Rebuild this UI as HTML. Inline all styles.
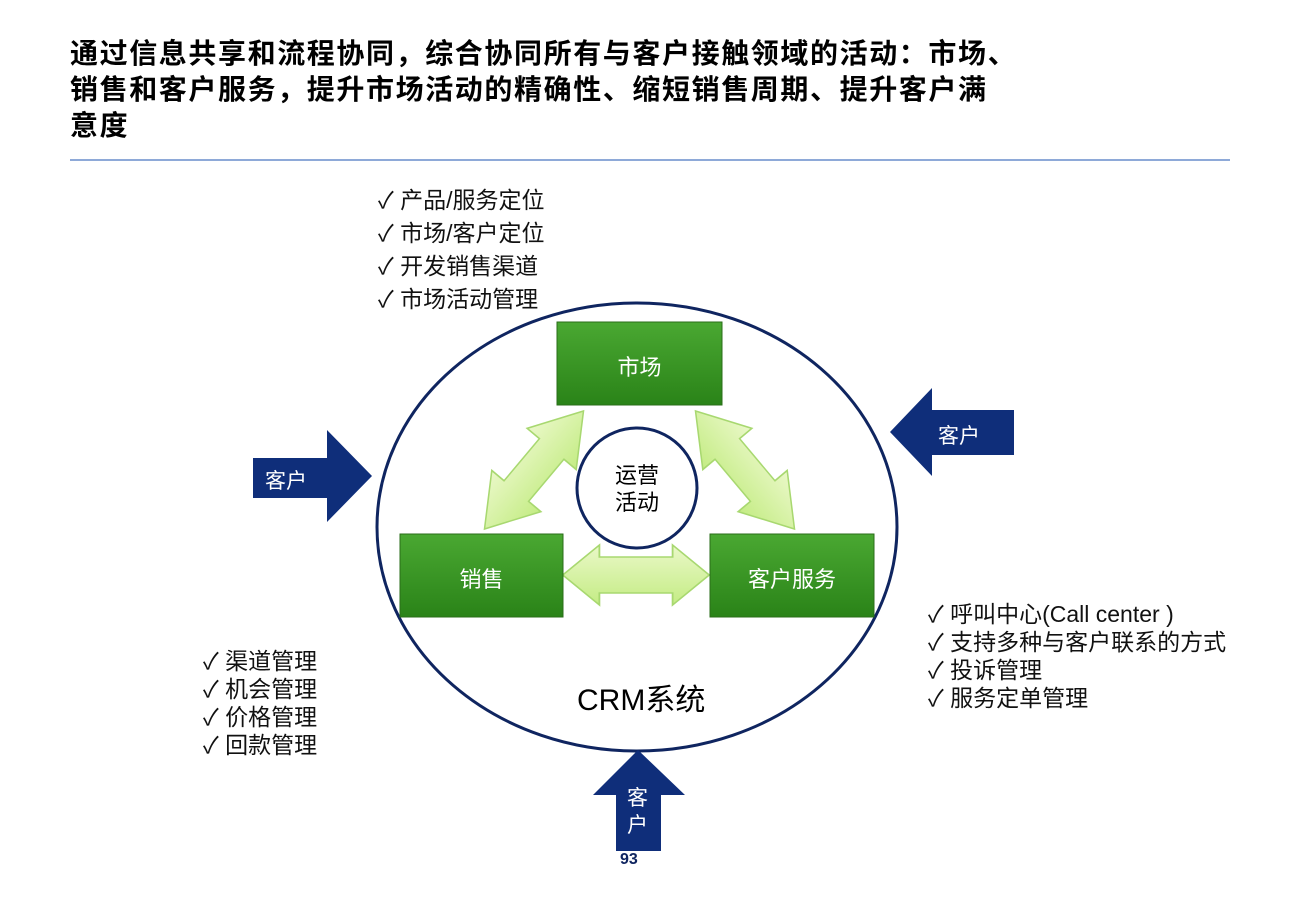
<!DOCTYPE html>
<html><head><meta charset="utf-8"><style>
body{margin:0;width:1300px;height:900px;background:#fff;overflow:hidden;position:relative;font-family:"Liberation Sans","Noto Sans CJK SC",sans-serif;}
.t{position:absolute;white-space:nowrap;}
.title{left:70px;top:36px;font-size:28px;letter-spacing:1.6px;font-weight:bold;line-height:36px;color:#000;}
.l{font-size:23px;line-height:33px;color:#111;}
.l2{font-size:23px;line-height:28px;color:#111;}
</style></head><body>
<div class="t title">通过信息共享和流程协同，综合协同所有与客户接触领域的活动：市场、<br>销售和客户服务，提升市场活动的精确性、缩短销售周期、提升客户满<br>意度</div>
<div style="position:absolute;left:70px;top:159px;width:1160px;height:2px;background:#8ea9d8"></div>
<svg width="1300" height="900" style="position:absolute;left:0;top:0">
<defs>
<linearGradient id="g" x1="0" y1="0" x2="0" y2="1"><stop offset="0" stop-color="#4aa832"/><stop offset="1" stop-color="#2a8318"/></linearGradient>
<linearGradient id="lg" x1="0" y1="0" x2="0" y2="1"><stop offset="0" stop-color="#eaf8c8"/><stop offset="1" stop-color="#c4ec84"/></linearGradient>
</defs>
<ellipse cx="637" cy="527" rx="260" ry="224" fill="none" stroke="#0f2560" stroke-width="3"/>
<g fill="url(#lg)" stroke="#a8d870" stroke-width="1.5">
<polygon points="0,-18 30,-18 30,-30 60,0 30,30 30,18 -30,18 -30,30 -60,0 -30,-30 -30,-18" transform="translate(636,575) scale(1.22,1)"/>
<polygon points="-25,-16 25,-16 25,-32 70,0 25,32 25,16 -25,16 -25,32 -70,0 -25,-32" transform="translate(534,470) rotate(-50) scale(1.1,1)"/>
<polygon points="-25,-16 25,-16 25,-32 70,0 25,32 25,16 -25,16 -25,32 -70,0 -25,-32" transform="translate(745,470) rotate(50) scale(1.1,1)"/>
</g>
<rect x="557" y="322" width="165" height="83" fill="url(#g)" stroke="#2a6e18"/>
<rect x="400" y="534" width="163" height="83" fill="url(#g)" stroke="#2a6e18"/>
<rect x="710" y="534" width="164" height="83" fill="url(#g)" stroke="#2a6e18"/>
<circle cx="637" cy="488" r="60" fill="#fff" stroke="#0f2560" stroke-width="3"/>
<polygon points="253,458 327,458 327,430 372,476 327,522 327,498 253,498" fill="#0f2e7a"/>
<polygon points="1014,410 932,410 932,388 890,432 932,476 932,455 1014,455" fill="#0f2e7a"/>
<polygon points="638,750 685,795 661,795 661,851 616,851 616,795 593,795" fill="#0f2e7a"/>
</svg>
<div class="t" style="left:557px;top:350px;width:165px;text-align:center;color:#fff;font-size:22px">市场</div>
<div class="t" style="left:400px;top:562px;width:163px;text-align:center;color:#fff;font-size:22px">销售</div>
<div class="t" style="left:710px;top:562px;width:164px;text-align:center;color:#fff;font-size:22px">客户服务</div>
<div class="t" style="left:577px;top:462px;width:120px;text-align:center;font-size:22px;line-height:27px">运营<br>活动</div>
<div class="t" style="left:265px;top:465px;color:#fff;font-size:21px">客户</div>
<div class="t" style="left:938px;top:420px;color:#fff;font-size:21px">客户</div>
<div class="t" style="left:627px;top:785px;color:#fff;font-size:21px;line-height:27px">客<br>户</div>
<div class="t" style="left:577px;top:675px;font-size:30px">CRM系统</div>
<div class="t" style="left:620px;top:851px;font-size:16px;font-weight:bold;color:#0f2560">93</div>
<div class="t l" style="left:378px;top:184px">✓ 产品/服务定位<br>✓ 市场/客户定位<br>✓ 开发销售渠道<br>✓ 市场活动管理</div>
<div class="t l2" style="left:203px;top:647px">✓ 渠道管理<br>✓ 机会管理<br>✓ 价格管理<br>✓ 回款管理</div>
<div class="t l2" style="left:928px;top:600px">✓ 呼叫中心(Call center )<br>✓ 支持多种与客户联系的方式<br>✓ 投诉管理<br>✓ 服务定单管理</div>
</body></html>
